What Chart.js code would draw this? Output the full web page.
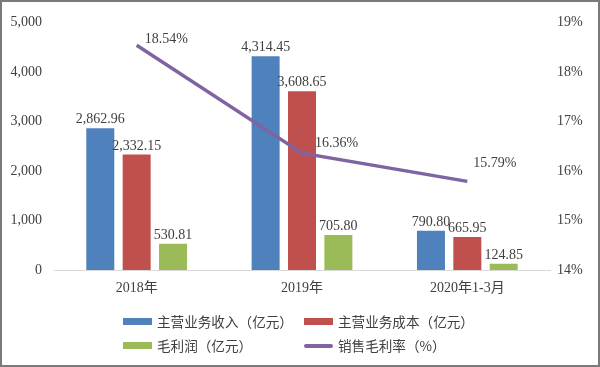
<!DOCTYPE html>
<html>
<head>
<meta charset="utf-8">
<script src="https://cdn.jsdelivr.net/npm/chart.js@4"></script>
<style>
  body { margin: 0; background: #fff; }
  #wrap { position: relative; width: 600px; height: 367px; border: 2px solid #7a7a7a; box-sizing: border-box; }
  #chart { position: absolute; left: 0; top: 0; }
  .leg { position: absolute; font: 13.6px "Noto Sans CJK SC", sans-serif; color: #404040; white-space: nowrap; line-height: 16px; }
  .sw { position: absolute; width: 29px; }
</style>
</head>
<body>
<div id="wrap">
  <canvas id="chart" width="596" height="363"></canvas>
  <div id="legend"></div>
</div>
<script>
const categories = ["2018年", "2019年", "2020年1-3月"];
const revenue = [2862.96, 4314.45, 790.80];
const cost = [2332.15, 3608.65, 665.95];
const profit = [530.81, 705.80, 124.85];
const margin = [18.54, 16.36, 15.79];

const seriesNames = ["主营业务收入（亿元）", "主营业务成本（亿元）", "毛利润（亿元）", "销售毛利率（%）"];
const colors = ["#4F81BD", "#C0504D", "#9BBB59", "#8064A2"];

const textColor = "#404040";
const serif = "'Liberation Serif', 'Noto Sans CJK SC', serif";

// offsets for the percent labels next to the line points
const pctOffsets = [[8, -6], [13, -10], [6, -18]];

const labelPlugin = {
    id: "labels",
    afterDatasetsDraw(chart) {
        const ctx = chart.ctx;
        ctx.save();
        ctx.font = "14px " + serif;
        ctx.fillStyle = textColor;
        chart.data.datasets.forEach((ds, i) => {
            const meta = chart.getDatasetMeta(i);
            meta.data.forEach((el, j) => {
                if (ds.type === "line") {
                    ctx.textAlign = "left";
                    ctx.textBaseline = "middle";
                    ctx.fillText(ds.data[j].toFixed(2) + "%", el.x + pctOffsets[j][0], el.y + pctOffsets[j][1]);
                } else {
                    ctx.textAlign = "center";
                    ctx.textBaseline = "alphabetic";
                    const txt = ds.data[j].toLocaleString("en-US", {minimumFractionDigits: 2, maximumFractionDigits: 2});
                    ctx.fillText(txt, el.x, el.y - 5);
                }
            });
        });
        ctx.restore();
    }
};

function barSet(idx, data) {
    return {
        type: "bar",
        label: seriesNames[idx],
        data: data,
        backgroundColor: colors[idx],
        categoryPercentage: 0.66,
        barPercentage: 0.77,
        yAxisID: "y",
        order: 1
    };
}

const ctx = document.getElementById("chart");
new Chart(ctx, {
    data: {
        labels: categories,
        datasets: [
            barSet(0, revenue),
            barSet(1, cost),
            barSet(2, profit),
            {
                type: "line",
                label: seriesNames[3],
                data: margin,
                borderColor: colors[3],
                backgroundColor: colors[3],
                borderWidth: 3.5,
                pointRadius: 0,
                tension: 0,
                yAxisID: "y1",
                order: 0
            }
        ]
    },
    options: {
        responsive: false,
        animation: false,
        layout: {padding: {top: 15, bottom: 55, left: 0, right: 0}},
        plugins: {
            legend: {display: false},
            tooltip: {enabled: false}
        },
        scales: {
            x: {
                grid: {display: false, drawTicks: false},
                border: {display: true, color: "#d9d9d9", width: 1},
                ticks: {color: textColor, font: {family: serif, size: 14}, padding: 10, maxRotation: 0},
                afterFit: s => { s.height = 40; }
            },
            y: {
                position: "left",
                min: 0, max: 5000,
                grid: {display: false, drawTicks: false},
                border: {display: false},
                ticks: {
                    stepSize: 1000, padding: 12, color: textColor,
                    font: {family: serif, size: 14},
                    callback: v => v.toLocaleString("en-US")
                },
                afterFit: s => { s.width = 52; }
            },
            y1: {
                position: "right",
                min: 14, max: 19,
                grid: {display: false, drawTicks: false},
                border: {display: false},
                ticks: {
                    stepSize: 1, padding: 7, color: textColor,
                    font: {family: serif, size: 14},
                    callback: v => v + "%"
                },
                afterFit: s => { s.width = 48; }
            }
        }
    },
    plugins: [labelPlugin]
});

// legend in two rows, below the chart
const legendPos = [[121, 313], [302, 313], [121, 337], [302, 337]];
const legend = document.getElementById("legend");
seriesNames.forEach((name, i) => {
    const sw = document.createElement("div");
    sw.className = "sw";
    sw.style.background = colors[i];
    sw.style.left = legendPos[i][0] + "px";
    if (i === 3) {
        sw.style.top = (legendPos[i][1] + 5) + "px";
        sw.style.height = "4px";
        sw.style.borderRadius = "2px";
    } else {
        sw.style.top = (legendPos[i][1] + 3) + "px";
        sw.style.height = "7px";
    }
    legend.appendChild(sw);
    const t = document.createElement("div");
    t.className = "leg";
    t.textContent = name;
    t.style.left = (legendPos[i][0] + 34) + "px";
    t.style.top = (legendPos[i][1] - 2) + "px";
    legend.appendChild(t);
});
</script>
</body>
</html>
